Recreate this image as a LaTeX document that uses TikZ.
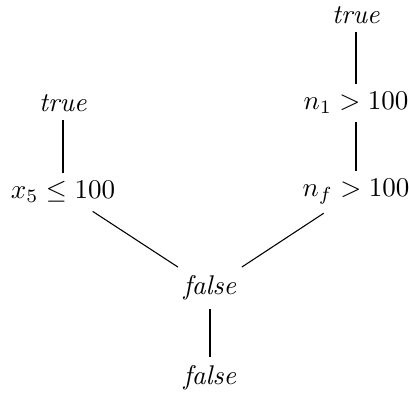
\documentclass[tikz,border=0pt]{standalone}
\begin{document}
\begin{tikzpicture}[
    lit/.style={inner sep=3pt},
    edge/.style={-}
]
\useasboundingbox (0,0) rectangle (5.317,-5.148);
\node[lit] (t1) at (4.628, -0.195) {\textit{true}};
\node[lit] (n1) at (4.628, -1.339) {$n_1 > 100$};
\node[lit] (t2) at (0.819, -1.339) {\textit{true}};
\node[lit] (x5) at (0.819, -2.496) {$x_5 \leq 100$};
\node[lit] (nf) at (4.628, -2.496) {$n_f > 100$};
\node[lit] (f1) at (2.73, -3.744) {\textit{false}};
\node[lit] (f2) at (2.73, -4.914) {\textit{false}};

\draw[edge] (t1) -- (n1);
\draw[edge] (n1) -- (nf);
\draw[edge] (t2) -- (x5);
\draw[edge] (x5) -- (f1);
\draw[edge] (nf) -- (f1);
\draw[edge] (f1) -- (f2);
\end{tikzpicture}
\end{document}
